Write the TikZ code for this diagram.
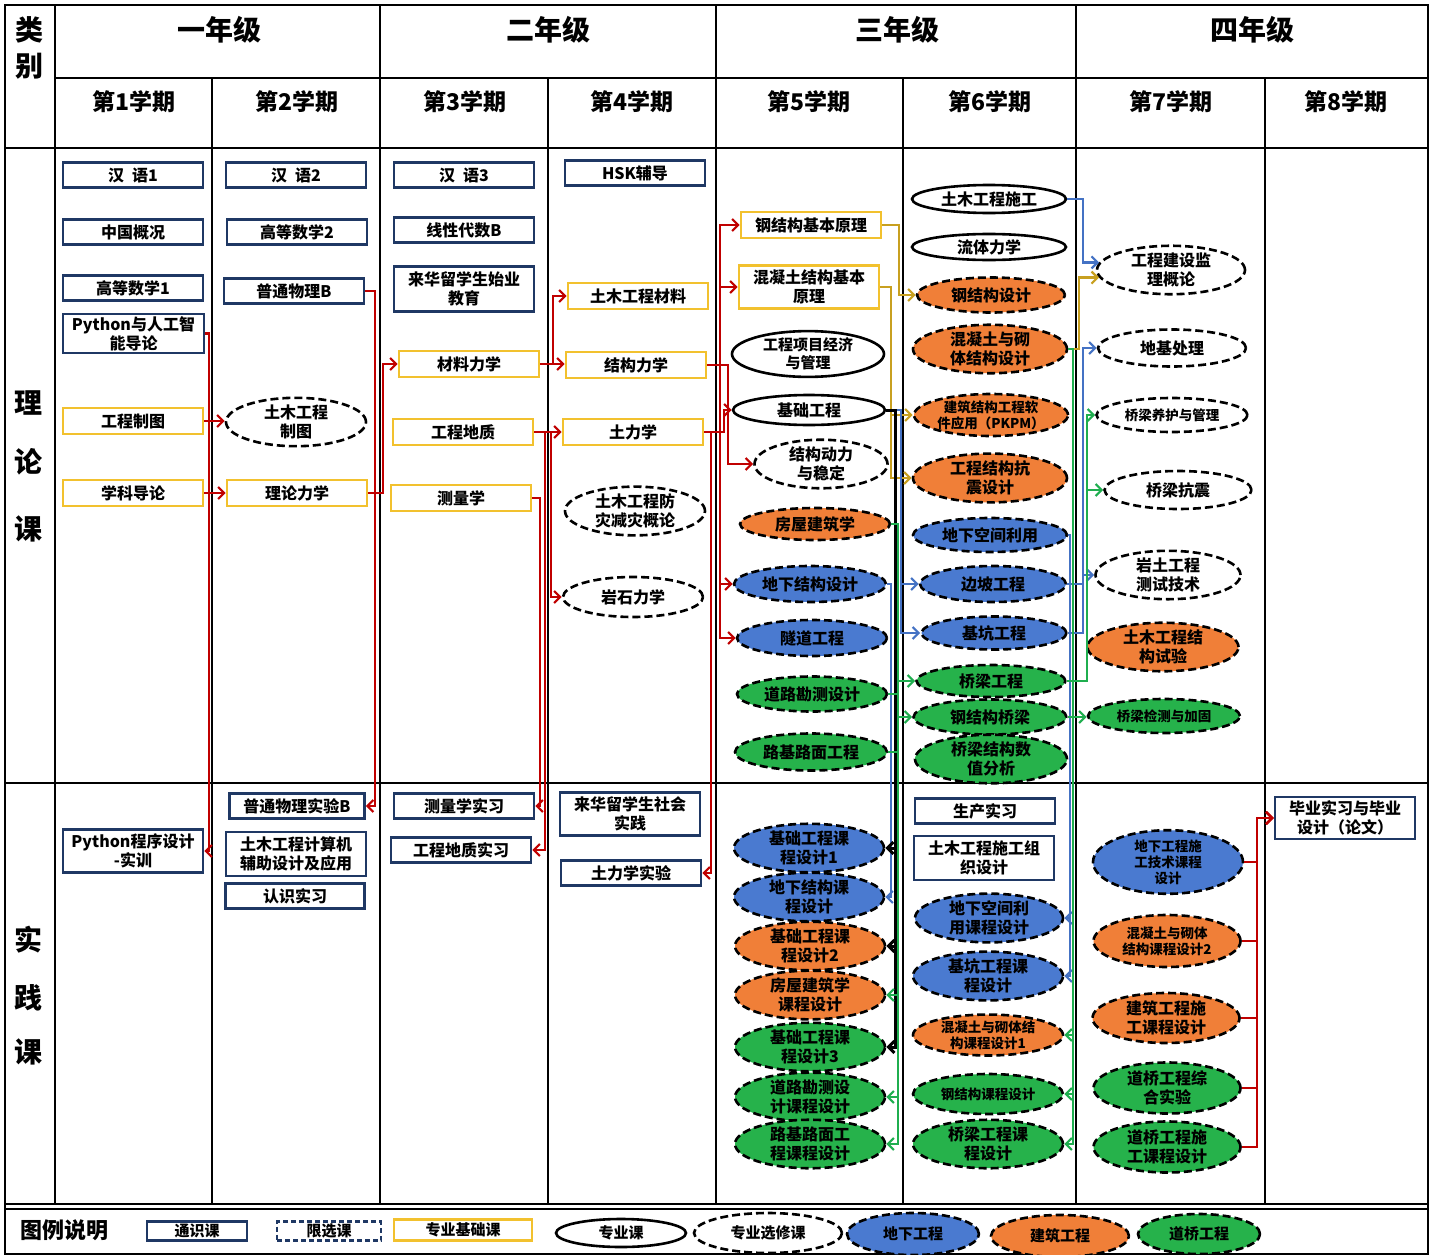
\documentclass[tikz,border=0pt]{standalone}
\usepackage{fontspec}
\setmainfont{Noto Sans CJK SC}
\usetikzlibrary{shapes.geometric,arrows.meta}
\definecolor{navy}{HTML}{1F3864}
\definecolor{goldb}{HTML}{F2C12E}
\definecolor{dxblue}{HTML}{4A7AD0}
\definecolor{jzorange}{HTML}{F07F38}
\definecolor{dqgreen}{HTML}{26B24B}
\definecolor{lred}{HTML}{C00000}
\definecolor{lgold}{HTML}{C8A020}
\definecolor{lblue}{HTML}{4472C4}
\definecolor{lgreen}{HTML}{1FAE4F}
\begin{document}
\begin{tikzpicture}[x=1pt,y=-1pt,
  every node/.style={font=\bfseries\fontsize{16}{19}\selectfont,align=center,inner sep=0pt,text=black},
  tong/.style={rectangle,draw=navy,line width=2.6pt,minimum width=140pt,minimum height=25pt},
  xianxuan/.style={tong,dash pattern=on 5pt off 3pt},
  jichu/.style={rectangle,draw=goldb,line width=2.6pt,minimum width=140pt,minimum height=26pt},
  zy/.style={ellipse,draw=black,line width=2.6pt,minimum width=152pt,minimum height=28pt},
  xx/.style={ellipse,draw=black,line width=2.6pt,dash pattern=on 8pt off 4pt,minimum width=140pt,minimum height=40pt},
  dx/.style={xx,fill=dxblue},
  jz/.style={xx,fill=jzorange},
  dq/.style={xx,fill=dqgreen},
  sm/.style={font=\bfseries\fontsize{13.5}{16}\selectfont},
  md/.style={font=\bfseries\fontsize{15}{18}\selectfont},
  gridline/.style={line width=1.6pt,draw=black},
  hdr/.style={font=\bfseries\fontsize{28}{32}\selectfont},
  sem/.style={font=\bfseries\fontsize{23}{26}\selectfont},
  cat/.style={font=\bfseries\fontsize{28}{30}\selectfont},
  conn/.style={line width=2.2pt,-{Straight Barb[length=6pt,width=12pt]}},
  rl/.style={conn,draw=lred},
  gl/.style={conn,draw=lgold},
  bl/.style={conn,draw=lblue},
  gnl/.style={conn,draw=lgreen},
  kl/.style={conn,draw=black,line width=3pt},
  plain/.style={line width=2.2pt},
]
\useasboundingbox (0,0) rectangle (1435,1255);
\fill[white] (0,0) rectangle (1435,1255);
% grid
\draw[gridline] (5,5) rectangle (1428,1254);
\draw[gridline] (55,78) -- (1428,78);
\draw[gridline] (5,148) -- (1428,148);
\draw[gridline] (5,783) -- (1428,783);
\draw[gridline] (5,1204) -- (1428,1204);
\draw[gridline] (5,1209) -- (1428,1209);
\foreach \x in {55,380,716,1076} \draw[gridline] (\x,5) -- (\x,1204);
\foreach \x in {212,548,903,1265} \draw[gridline] (\x,78) -- (\x,1204);

% headers
\node[cat] (lb1) at (30,30) {类};
\node[cat] (lb2) at (30,66) {别};
\node[cat] (ll1) at (28,403) {理};
\node[cat] (ll2) at (28,462) {论};
\node[cat] (ll3) at (28,529) {课};
\node[cat] (sj1) at (28,940) {实};
\node[cat] (sj2) at (28,998) {践};
\node[cat] (sj3) at (28,1052) {课};
\node[hdr] (y1) at (219,30) {一年级};
\node[hdr] (y2) at (548,30) {二年级};
\node[hdr] (y3) at (897,30) {三年级};
\node[hdr] (y4) at (1252,30) {四年级};
\node[sem] (s1) at (134,102) {第1学期};
\node[sem] (s2) at (297,102) {第2学期};
\node[sem] (s3) at (465,102) {第3学期};
\node[sem] (s4) at (632,102) {第4学期};
\node[sem] (s5) at (809,102) {第5学期};
\node[sem] (s6) at (990,102) {第6学期};
\node[sem] (s7) at (1171,102) {第7学期};
\node[sem] (s8) at (1346,102) {第8学期};

% ---- theory, semester 1
\node[tong] (h1) at (133,175) {汉\hspace{0.5em}语1};
\node[tong] (zg) at (133,232) {中国概况};
\node[tong] (gs1) at (133,288) {高等数学1};
\node[tong,line width=1.5pt,minimum width=141pt,minimum height=39pt] (py) at (133.5,333.5) {Python与人工智\\能导论};
\node[jichu] (gczt) at (133,421) {工程制图};
\node[jichu] (xkdl) at (133,493) {学科导论};
% semester 2
\node[tong] (h2) at (296,175) {汉\hspace{0.5em}语2};
\node[tong] (gs2) at (297,232) {高等数学2};
\node[tong] (wl) at (294,291) {普通物理B};
\node[xx,minimum width=140pt,minimum height=41pt] (tmzt) at (296,422) {土木工程\\制图};
\node[jichu] (llx) at (297,493) {理论力学};
% semester 3
\node[tong] (h3) at (464,175) {汉\hspace{0.5em}语3};
\node[tong] (xd) at (464,230) {线性代数B};
\node[tong,minimum height=45pt] (lh) at (464,289) {来华留学生始业\\教育};
\node[jichu] (clx) at (469,364) {材料力学};
\node[jichu] (gcdz) at (463,432) {工程地质};
\node[jichu] (clxue) at (461,498) {测量学};
% semester 4
\node[tong] (hsk) at (635,173) {HSK辅导};
\node[jichu] (tmcl) at (638,296) {土木工程材料};
\node[jichu] (jglx) at (636,365) {结构力学};
\node[jichu] (tlx) at (633,432) {土力学};
\node[xx,minimum width=140pt,minimum height=48pt] (fz) at (635,511) {土木工程防\\灾减灾概论};
\node[xx,minimum width=140pt,minimum height=40pt] (yslx) at (633,597) {岩石力学};
% semester 5
\node[jichu] (gjgjb) at (811,225) {钢结构基本原理};
\node[jichu,minimum height=43pt] (hntjb) at (809,287) {混凝土结构基本\\原理};
\node[zy,md,minimum height=43pt] (xmjj) at (808,354) {工程项目经济\\与管理};
\node[zy,minimum height=30pt] (jcgc) at (809,410) {基础工程};
\node[xx,minimum width=133pt,minimum height=42pt] (dlwd) at (821,464) {结构动力\\与稳定};
\node[jz,minimum width=150pt,minimum height=32pt] (fwjz) at (815,524) {房屋建筑学};
\node[dx,minimum width=152pt,minimum height=36pt] (dxjg) at (810,584) {地下结构设计};
\node[dx,minimum width=150pt,minimum height=36pt] (sdgc) at (812,638) {隧道工程};
\node[dq,minimum width=150pt,minimum height=35pt] (dlkc) at (812,694) {道路勘测设计};
\node[dq,minimum width=152pt,minimum height=37pt] (ljlm) at (811,752) {路基路面工程};
% semester 6
\node[zy,minimum width=154pt,minimum height=28pt] (tmsg) at (989,199) {土木工程施工};
\node[zy,minimum width=154pt,minimum height=26pt] (ltlx) at (989,247) {流体力学};
\node[jz,minimum width=148pt,minimum height=35pt] (gjgsj) at (991,295) {钢结构设计};
\node[jz,minimum width=154pt,minimum height=46pt] (hntqt) at (990,349) {混凝土与砌\\体结构设计};
\node[jz,sm,minimum width=154pt,minimum height=42pt] (pkpm) at (991,415) {建筑结构工程软\\件应用（PKPM）};
\node[jz,minimum width=154pt,minimum height=45pt] (kzsj) at (990,478) {工程结构抗\\震设计};
\node[dx,minimum width=154pt,minimum height=34pt] (dxkj) at (990,535) {地下空间利用};
\node[dx,minimum width=146pt,minimum height=36pt] (bpgc) at (993,584) {边坡工程};
\node[dx,minimum width=145pt,minimum height=33pt] (jkgc) at (994,633) {基坑工程};
\node[dq,minimum width=149pt,minimum height=32pt] (qlgc) at (991,681) {桥梁工程};
\node[dq,minimum width=153pt,minimum height=35pt] (gjgql) at (990,717) {钢结构桥梁};
\node[dq,minimum width=152pt,minimum height=45pt] (qlsz) at (991,759) {桥梁结构数\\值分析};
% semester 7
\node[xx,minimum width=148pt,minimum height=40pt] (jljl) at (1171,270) {工程建设监\\理概论};
\node[xx,minimum width=148pt,minimum height=37pt] (djcl) at (1172,348) {地基处理};
\node[xx,sm,minimum width=151pt,minimum height=34pt] (qlyh) at (1172,415) {桥梁养护与管理};
\node[xx,minimum width=147pt,minimum height=38pt] (qlkz) at (1178,490) {桥梁抗震};
\node[xx,minimum width=145pt,minimum height=45pt] (ytcs) at (1168,575) {岩土工程\\测试技术};
\node[jz,minimum width=151pt,minimum height=41pt] (jgsy) at (1163,647) {土木工程结\\构试验};
\node[dq,sm,minimum width=152pt,minimum height=34pt] (qljc) at (1164,716) {桥梁检测与加固};

% ---- practice
\node[tong,minimum height=43pt] (pysx) at (133,851) {Python程序设计\\-实训};
\node[tong,minimum width=135pt] (wlsy) at (297,806) {普通物理实验B};
\node[tong,minimum height=44pt] (cad) at (296,854) {土木工程计算机\\辅助设计及应用};
\node[tong,minimum width=139pt] (rssx) at (295,896) {认识实习};
\node[tong] (clsx) at (464,806) {测量学实习};
\node[tong] (dzsx) at (461,850) {工程地质实习};
\node[tong,minimum height=43pt] (shsj) at (630,814) {来华留学生社会\\实践};
\node[tong] (tlsy) at (631,873) {土力学实验};
% semester 5 practice
\node[dx,minimum width=150pt,minimum height=43pt] (p5a) at (809,848) {基础工程课\\程设计1};
\node[dx,minimum width=150pt,minimum height=40pt] (p5b) at (809,897) {地下结构课\\程设计};
\node[jz,minimum width=150pt,minimum height=38pt] (p5c) at (810,946) {基础工程课\\程设计2};
\node[jz,minimum width=150pt,minimum height=41pt] (p5d) at (810,995) {房屋建筑学\\课程设计};
\node[dq,minimum width=150pt,minimum height=41pt] (p5e) at (810,1047) {基础工程课\\程设计3};
\node[dq,minimum width=150pt,minimum height=45pt] (p5f) at (810,1097) {道路勘测设\\计课程设计};
\node[dq,minimum width=150pt,minimum height=44pt] (p5g) at (810,1144) {路基路面工\\程课程设计};
% semester 6 practice
\node[tong] (scsx) at (985,811) {生产实习};
\node[tong,minimum height=44pt] (sgzz) at (984,858) {土木工程施工组\\织设计};
\node[dx,minimum width=148pt,minimum height=43pt] (p6a) at (989,918) {地下空间利\\用课程设计};
\node[dx,minimum width=150pt,minimum height=43pt] (p6b) at (988,976) {基坑工程课\\程设计};
\node[jz,sm,minimum width=150pt,minimum height=40pt] (p6c) at (988,1035) {混凝土与砌体结\\构课程设计1};
\node[dq,sm,minimum width=150pt,minimum height=40pt] (p6d) at (988,1094) {钢结构课程设计};
\node[dq,minimum width=150pt,minimum height=44pt] (p6e) at (988,1144) {桥梁工程课\\程设计};
% semester 7 practice
\node[dx,sm,minimum width=150pt,minimum height=51pt] (p7a) at (1168,862) {地下工程施\\工技术课程\\设计};
\node[jz,sm,minimum width=147pt,minimum height=52pt] (p7b) at (1167,941) {混凝土与砌体\\结构课程设计2};
\node[jz,minimum width=147pt,minimum height=50pt] (p7c) at (1166,1018) {建筑工程施\\工课程设计};
\node[dq,minimum width=147pt,minimum height=51pt] (p7d) at (1167,1088) {道桥工程综\\合实验};
\node[dq,minimum width=147pt,minimum height=51pt] (p7e) at (1167,1147) {道桥工程施\\工课程设计};
% semester 8 practice
\node[tong,minimum height=42pt] (bysj) at (1345,818) {毕业实习与毕业\\设计（论文）};

% ---- trunk x positions
\coordinate (xa) at (209,0);
\coordinate (xb) at (375,0);
\coordinate (xc) at (383,0);
\coordinate (xd1) at (553,0);
\coordinate (xe) at (551,0);
\coordinate (xf) at (545,0);
\coordinate (xg) at (540,0);
\coordinate (xh) at (720,0);
\coordinate (xi) at (728,0);
\coordinate (xj) at (724,0);
\coordinate (xk) at (711,0);
\coordinate (xl) at (1257,0);
\coordinate (xm) at (899,0);
\coordinate (xn) at (891,0);
\coordinate (xo) at (1079,0);
\coordinate (xp) at (1083,0);
\coordinate (xq) at (1087,0);
\coordinate (xr) at (1070,0);
\coordinate (xs) at (1073,0);
\coordinate (xu) at (901,0);
\coordinate (xv) at (891,0);
\coordinate (xw) at (895,0);
\coordinate (xy) at (898,0);

% ---- red connectors
\draw[rl] (py.east) -- (py.east -| xa) |- (pysx.east);
\draw[rl] (gczt.east) -- (gczt.east -| tmzt.west);
\draw[rl] (xkdl.east) -- (llx.west);
\draw[rl] (wl.east) -- (wl.east -| xb) |- (wlsy.east);
\draw[rl] (llx.east) -- (llx.east -| xc) |- (clx.west);
\draw[rl] (clx.east) -- (clx.east -| xd1) |- (tmcl.west);
\draw[rl] (clx.east) -- (clx.east -| jglx.west);
\draw[rl] (gcdz.east) -- (gcdz.east -| tlx.west);
\draw[rl] (gcdz.east) -- (gcdz.east -| xe) |- (yslx.west);
\draw[rl] (gcdz.east) -- (gcdz.east -| xf) |- (dzsx.east);
\draw[rl] (clxue.east) -- (clxue.east -| xg) |- (clsx.east);
\draw[rl] (jglx.east) -- (jglx.east -| xh) |- (gjgjb.west);
\draw[rl] (jglx.east) -- (jglx.east -| xh) |- (hntjb.west);
\draw[rl] (jglx.east) -- (jglx.east -| xh) |- (dxjg.west);
\draw[rl] (jglx.east) -- (jglx.east -| xh) |- (sdgc.west);
\draw[rl] (jglx.east) -- (jglx.east -| xi) |- (dlwd.west);
\draw[rl] (tlx.east) -- (tlx.east -| xj) |- (jcgc.west);
\draw[rl] (tlx.east) -- (tlx.east -| xk) |- (tlsy.east);
\foreach \n in {p7a,p7b,p7c,p7d,p7e}
  \draw[rl] (\n.east) -- (\n.east -| xl) |- (bysj.west);

% ---- gold connectors
\draw[gl] (gjgjb.east) -- (gjgjb.east -| xm) |- (gjgsj.west);
\draw[gl] (hntjb.east) -- (hntjb.east -| xn) |- (pkpm.west);
\draw[gl] (hntjb.east) -- (hntjb.east -| xn) |- (kzsj.west);
\draw[gl] (hntqt.east) -- (hntqt.east -| xo) |- (jljl.186);

% ---- blue connectors
\draw[bl] (tmsg.east) -- (tmsg.east -| xp) |- (jljl.174);
\draw[bl] (jkgc.east) -- (jkgc.east -| xp) |- (djcl.west);
\draw[bl] (jkgc.east) -- (jkgc.east -| xp) |- (ytcs.west);
\draw[plain,draw=lblue] (bpgc.east) -- (bpgc.east -| xp);
\draw[bl] (dxkj.east) -- (dxkj.east -| xr) |- (p6a.east);
\draw[bl] (dxkj.east) -- (dxkj.east -| xr) |- (p6b.east);
\draw[bl] (jcgc.east) -- (jcgc.east -| xu) |- (bpgc.west);
\draw[bl] (jcgc.east) -- (jcgc.east -| xu) |- (jkgc.west);
\draw[bl] (dxjg.east) -- (dxjg.east -| xv) |- (p5b.east);

% ---- black connectors
\draw[kl] (jcgc.east) -- (jcgc.east -| xw) |- (p5a.east);
\draw[kl] (jcgc.east) -- (jcgc.east -| xw) |- (p5c.east);
\draw[kl] (jcgc.east) -- (jcgc.east -| xw) |- (p5e.east);

% ---- green connectors
\draw[gnl] (fwjz.east) -- (fwjz.east -| xy) |- (p5d.east);
\draw[gnl] (dlkc.east) -- (dlkc.east -| xy) |- (p5f.east);
\draw[gnl] (ljlm.east) -- (ljlm.east -| xy) |- (p5g.east);
\draw[gnl] (fwjz.east) -- (fwjz.east -| xy) |- (qlgc.west);
\draw[gnl] (fwjz.east) -- (fwjz.east -| xy) |- (gjgql.west);
\draw[gnl] (hntqt.east) -- (hntqt.east -| xs) |- (p6c.east);
\draw[gnl] (hntqt.east) -- (hntqt.east -| xs) |- (p6d.east);
\draw[gnl] (hntqt.east) -- (hntqt.east -| xs) |- (p6e.east);
\draw[gnl] (qlgc.east) -- (qlgc.east -| xq) |- (qlyh.west);
\draw[gnl] (qlgc.east) -- (qlgc.east -| xq) |- (qlkz.west);
\draw[gnl] (gjgql.east) -- (gjgql.east -| qljc.west);

% ---- legend
\node[font=\bfseries\fontsize{22}{24}\selectfont] (lgt) at (64,1230) {图例说明};
\node[tong,font=\bfseries\fontsize{15}{17}\selectfont,minimum width=100pt,minimum height=19pt,line width=2.2pt] (lg1) at (197,1231) {通识课};
\node[xianxuan,font=\bfseries\fontsize{15}{17}\selectfont,minimum width=104pt,minimum height=19pt,line width=2.2pt] (lg2) at (329,1231) {限选课};
\node[jichu,font=\bfseries\fontsize{15}{17}\selectfont,minimum width=138pt,minimum height=21pt] (lg3) at (463,1230) {专业基础课};
\node[zy,font=\bfseries\fontsize{15}{17}\selectfont,minimum width=130pt,minimum height=28pt] (lg4) at (621,1233) {专业课};
\node[xx,font=\bfseries\fontsize{15}{17}\selectfont,minimum width=148pt,minimum height=40pt] (lg5) at (768,1233) {专业选修课};
\node[dx,font=\bfseries\fontsize{15}{17}\selectfont,minimum width=132pt,minimum height=42pt] (lg6) at (913,1234) {地下工程};
\node[jz,font=\bfseries\fontsize{15}{17}\selectfont,minimum width=138pt,minimum height=42pt] (lg7) at (1060,1236) {建筑工程};
\node[dq,font=\bfseries\fontsize{15}{17}\selectfont,minimum width=122pt,minimum height=40pt] (lg8) at (1199,1234) {道桥工程};
\end{tikzpicture}
\end{document}
